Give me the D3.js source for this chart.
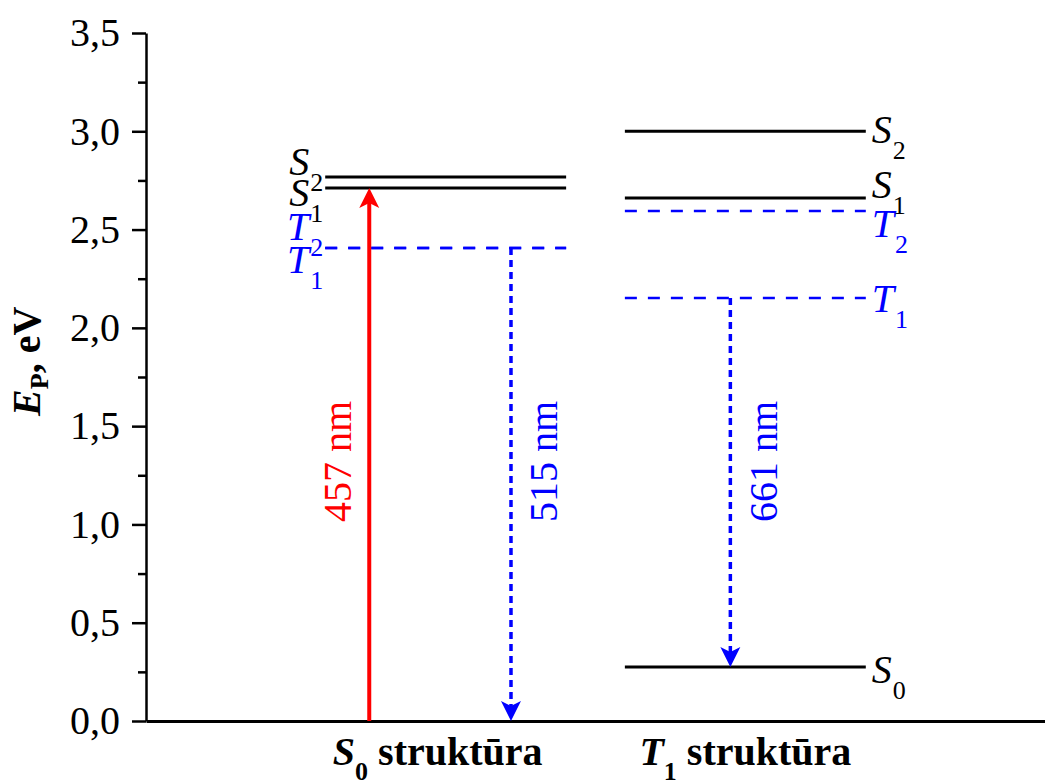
<!DOCTYPE html>
<html>
<head>
<meta charset="utf-8">
<script src="https://cdn.jsdelivr.net/npm/d3@7"></script>
<style>
  html, body { margin: 0; padding: 0; background: #fff; }
  svg, svg text { font-family: "Liberation Serif", "Times New Roman", serif; }
</style>
</head>
<body>
<svg id="chart" width="1045" height="780"></svg>
<script>
// ---------- data ----------
const structures = ["S0", "T1"];            // two structures (x positions 1 and 2)
const structureLabels = [["S", "0"], ["T", "1"]];

// energy levels of the S0 structure
const leftLevelNames  = [["S", "2"], ["S", "1"], ["T", "2"], ["T", "1"]];
const leftLevelValues = [2.767, 2.711, 2.406, 2.406];

// energy levels of the T1 structure
const rightLevelNames  = [["S", "2"], ["S", "1"], ["T", "2"], ["T", "1"], ["S", "0"]];
const rightLevelValues = [3.0, 2.661, 2.594, 2.152, 0.275];

// transitions (structure index, from energy, to energy, label)
const transStructure = [0, 0, 1];
const transFrom      = [0.0, 2.406, 2.152];
const transTo        = [2.711, 0.0, 0.275];
const transLabels    = ["457 nm", "515 nm", "661 nm"];

const yTicks = [0, 0.5, 1.0, 1.5, 2.0, 2.5, 3.0, 3.5];
const yMinorTicks = [0.25, 0.75, 1.25, 1.75, 2.25, 2.75, 3.25];

// ---------- layout ----------
const svg = d3.select("#chart");
const FONT = 40, SUB = 26;
const BLUE = "#0000ff", RED = "#ff0000";
const SERIF = '"Liberation Serif", "Times New Roman", serif';

const y = d3.scaleLinear().domain([0, 3.5]).range([721, 33]);
const x = d3.scaleLinear().domain([0, 3]).range([146, 1045]);
const halfW = 0.402;
const transDx = [-0.255, 0.218, -0.05];          // arrow offset from structure centre
const transLabelDx = [-18, 46, 47];             // label baseline offset from arrow (px)
const transLabelY = 1.32;
const leftLabelDy  = [-2, 18, -8, 25];
const rightLabelDy = [12, 0, 26, 14, 16];

const comma = d3.formatLocale({decimal: ",", thousands: " ", grouping: [3], currency: ["", ""]});
const fmt = comma.format(".1f");

// ---------- axes ----------
const yAxis = svg.append("g").attr("transform", `translate(${x(0)},0)`)
  .call(d3.axisLeft(y).tickValues(yTicks).tickFormat(fmt).tickSize(14).tickPadding(12).tickSizeOuter(0));
yAxis.attr("font-family", SERIF);
yAxis.select(".domain").attr("stroke-width", 2.5);
yAxis.selectAll(".tick line").attr("stroke-width", 2.5);
yAxis.selectAll(".tick text").attr("font-size", FONT).attr("font-family", SERIF).attr("fill", "#000");

const yMinor = svg.append("g").attr("transform", `translate(${x(0)},0)`)
  .call(d3.axisLeft(y).tickValues(yMinorTicks).tickFormat("").tickSize(8).tickSizeOuter(0));
yMinor.select(".domain").remove();
yMinor.selectAll(".tick line").attr("stroke-width", 2.5);

const xAxis = svg.append("g").attr("transform", `translate(0,${y(0)})`)
  .call(d3.axisBottom(x).tickValues([]).tickSizeOuter(0));
xAxis.select(".domain").attr("stroke-width", 3);

// y axis title
const yt = svg.append("text")
  .attr("transform", `translate(40,${y(1.83)}) rotate(-90)`)
  .attr("text-anchor", "middle").attr("font-family", SERIF)
  .attr("font-size", FONT).attr("font-weight", "bold");
yt.append("tspan").attr("font-style", "italic").text("E");
yt.append("tspan").attr("font-size", SUB).attr("dy", 8).text("P");
yt.append("tspan").attr("dy", -8).text(", eV");

// x category labels
structureLabels.forEach((lab, i) => {
  const t = svg.append("text")
    .attr("x", x(i + 1) + (i === 0 ? -8 : 0)).attr("y", 765)
    .attr("text-anchor", "middle").attr("font-family", SERIF)
    .attr("font-size", FONT).attr("font-weight", "bold");
  t.append("tspan").attr("font-style", "italic").text(lab[0]);
  t.append("tspan").attr("font-size", SUB).attr("dy", 15).text(lab[1]);
  t.append("tspan").attr("dy", -15).text("\u00a0struktūra");
});

// ---------- levels ----------
function drawLevels(cx, names, values, side, dys) {
  names.forEach((n, i) => {
    const isT = n[0] === "T";
    svg.append("line")
      .attr("x1", x(cx - halfW)).attr("x2", x(cx + halfW))
      .attr("y1", y(values[i])).attr("y2", y(values[i]))
      .attr("stroke", isT ? BLUE : "#000").attr("stroke-width", isT ? 2.5 : 3)
      .attr("stroke-dasharray", isT ? "12,11" : null);
    const t = svg.append("text")
      .attr("x", side === "left" ? x(cx - halfW) - 2 : x(cx + halfW) + 6)
      .attr("y", y(values[i]) + dys[i])
      .attr("text-anchor", side === "left" ? "end" : "start")
      .attr("font-family", SERIF)
      .attr("font-size", FONT).attr("fill", isT ? BLUE : "#000");
    t.append("tspan").attr("font-style", "italic").text(n[0]);
    t.append("tspan").attr("font-size", SUB).attr("dy", 16).attr("dx", 1).text(n[1]);
  });
}
drawLevels(1, leftLevelNames, leftLevelValues, "left", leftLabelDy);
drawLevels(2, rightLevelNames, rightLevelValues, "right", rightLabelDy);

// ---------- transitions ----------
transLabels.forEach((lab, i) => {
  const ax = x(transStructure[i] + 1 + transDx[i]);
  const y0 = y(transFrom[i]), y1 = y(transTo[i]);
  const up = y1 < y0;
  const col = up ? RED : BLUE;
  const headL = 20, headW = 10, notch = 5;
  const dir = up ? 1 : -1;               // +1: head points up (base below tip)
  svg.append("line")
    .attr("x1", ax).attr("x2", ax)
    .attr("y1", y0).attr("y2", y1 + dir * (headL - notch))
    .attr("stroke", col).attr("stroke-width", up ? 4 : 3.5)
    .attr("stroke-dasharray", up ? null : "7,5");
  svg.append("path")
    .attr("d", `M${ax},${y1} L${ax - headW},${y1 + dir * headL} L${ax},${y1 + dir * (headL - notch)} L${ax + headW},${y1 + dir * headL} Z`)
    .attr("fill", col);
  const lx = ax + transLabelDx[i];
  svg.append("text")
    .attr("transform", `translate(${lx},${y(transLabelY)}) rotate(-90)`)
    .attr("text-anchor", "middle").attr("font-family", SERIF)
    .attr("font-size", FONT).attr("fill", col)
    .text(lab);
});
</script>
</body>
</html>
